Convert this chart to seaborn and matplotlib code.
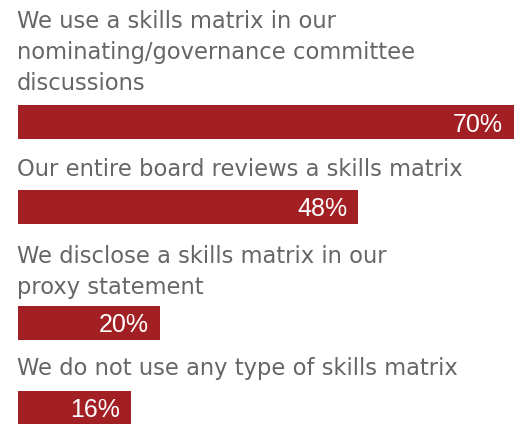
import matplotlib
matplotlib.use("Agg")
import matplotlib.pyplot as plt
import seaborn as sns
import pandas as pd

# ---- data ----
categories = [
    "We use a skills matrix in our\nnominating/governance committee\ndiscussions",
    "Our entire board reviews a skills matrix",
    "We disclose a skills matrix in our\nproxy statement",
    "We do not use any type of skills matrix",
]
values = [70, 48, 20, 16]
value_labels = ["70%", "48%", "20%", "16%"]

# ---- layout / style ----
W, H = 517, 424
BAR_COLOR = "#A21F23"
TEXT_COLOR = "#666666"
bar_tops = [105, 190, 306, 391]
bar_h = 34
label_first_baselines = [28.5, 176, 263, 375]
line_step = 31
x0, x1 = 18, 514
xmax = 70

sns.set_theme(style="white")
plt.rcParams['font.family'] = ['Liberation Sans', 'DejaVu Sans']

fig = plt.figure(figsize=(W / 100, H / 100), dpi=100)

for i, (cat, val, lab) in enumerate(zip(categories, values, value_labels)):
    top = bar_tops[i]
    ax = fig.add_axes([x0 / W, 1 - (top + bar_h) / H, (x1 - x0) / W, bar_h / H])
    df = pd.DataFrame({"category": [cat], "value": [val]})
    sns.barplot(data=df, x="value", y="category", orient="h", color=BAR_COLOR,
                width=1.0, saturation=1, linewidth=0, ax=ax)
    ax.set_xlim(0, xmax)
    ax.set_ylim(0.5, -0.5)
    ax.axis("off")
    ax.annotate(lab, xy=(val, 0), xytext=(-11, -9.5), textcoords="offset pixels",
                ha="right", va="baseline", fontsize=18, color="white")
    for j, line in enumerate(cat.split("\n")):
        fig.text(17 / W, 1 - (label_first_baselines[i] + j * line_step) / H, line,
                 ha="left", va="baseline", fontsize=16.3, color=TEXT_COLOR,
                 family=["DejaVu Sans"])

fig.savefig("out.png", dpi=100)
